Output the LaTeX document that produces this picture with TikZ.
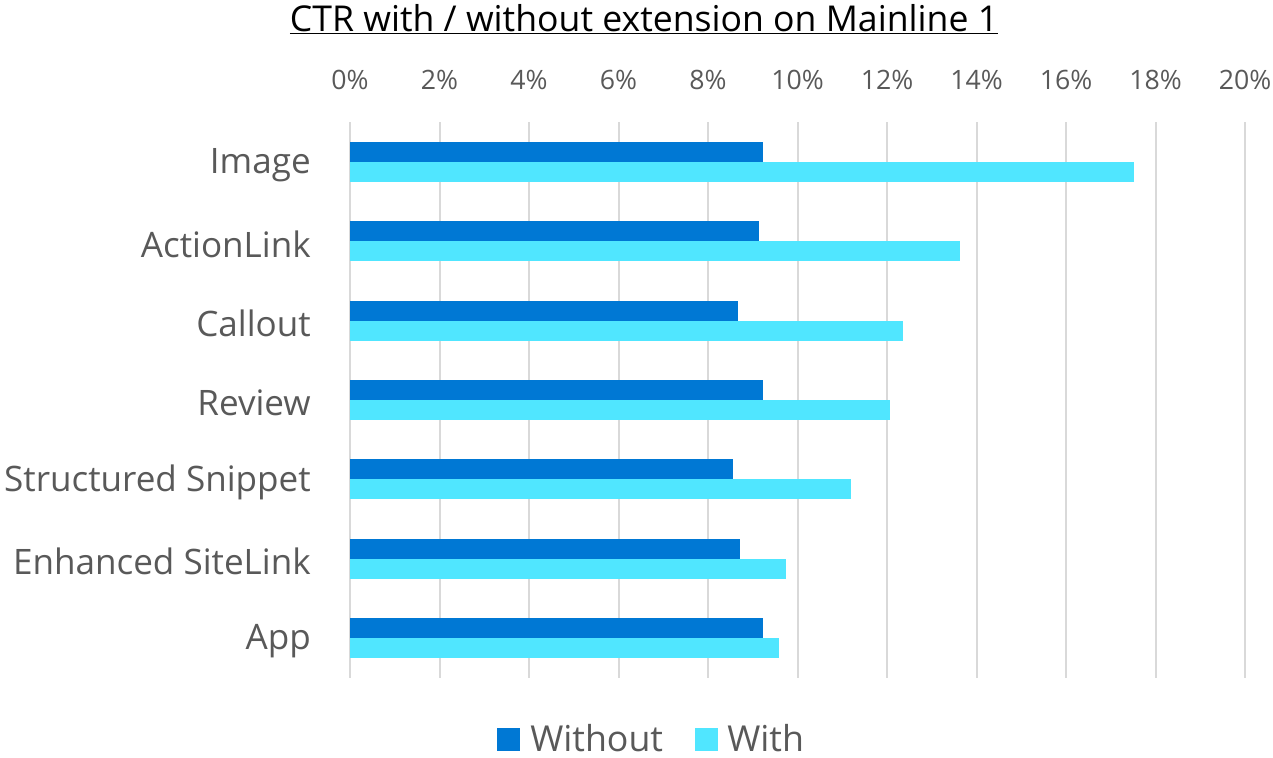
\documentclass[tikz,border=0pt]{standalone}
\usepackage{fontspec}
\setmainfont{Open Sans}
\definecolor{dk}{HTML}{0078D4}
\definecolor{lt}{HTML}{50E6FF}
\definecolor{txt}{HTML}{595959}
\definecolor{grd}{HTML}{D9D9D9}
\begin{document}
\begin{tikzpicture}[x=0.75pt,y=-0.75pt,
  grid/.style={draw=grd,line width=1.5pt},
  tick/.style={text=txt,font=\fontsize{20}{24}\selectfont,anchor=center,inner sep=0pt},
  cat/.style={text=txt,font=\fontsize{26.3}{30}\selectfont,anchor=east,inner sep=0pt},
  bardk/.style={fill=dk,draw=none},
  barlt/.style={fill=lt,draw=none},
  leg/.style={text=txt,font=\fontsize{26.8}{30}\selectfont,anchor=base west,inner sep=0pt,text depth=0pt}]
\useasboundingbox (0,0) rectangle (1273,757);
% gridlines and ticks
\foreach \i in {0,...,10}{
  \pgfmathsetmacro{\xx}{350+89.5*\i}
  \draw[grid] (\xx,122) -- (\xx,678);
  \pgfmathtruncatemacro{\pc}{2*\i}
  \node[tick] (t\i) at (\xx,80) {\pc\%};
}
% bars: name / without / with
\foreach \n/\lab/\a/\b [count=\k from 0] in {
  img/Image/9.23/17.52,
  act/ActionLink/9.14/13.63,
  cal/Callout/8.67/12.36,
  rev/Review/9.23/12.07,
  str/Structured Snippet/8.56/11.2,
  enh/Enhanced SiteLink/8.72/9.74,
  app/App/9.23/9.59}{
  \pgfmathsetmacro{\yc}{162+79.33*\k}
  \fill[bardk] (350,\yc-20) rectangle (350+44.75*\a,\yc);
  \fill[barlt] (350,\yc) rectangle (350+44.75*\b,\yc+20);
  \node[cat] (c\n) at (311,\yc+3) {\lab};
}
% title
\node[inner sep=0pt,font=\fontsize{26.7}{30}\selectfont,anchor=center] (title) at (644,19) {\underline{CTR with / without extension on Mainline 1}};
% legend
\fill[bardk] (497,728) rectangle (520,751);
\node[leg] (l1) at (530,751) {Without};
\fill[barlt] (695,728) rectangle (718,751);
\node[leg] (l2) at (727,751) {With};
\end{tikzpicture}
\end{document}
